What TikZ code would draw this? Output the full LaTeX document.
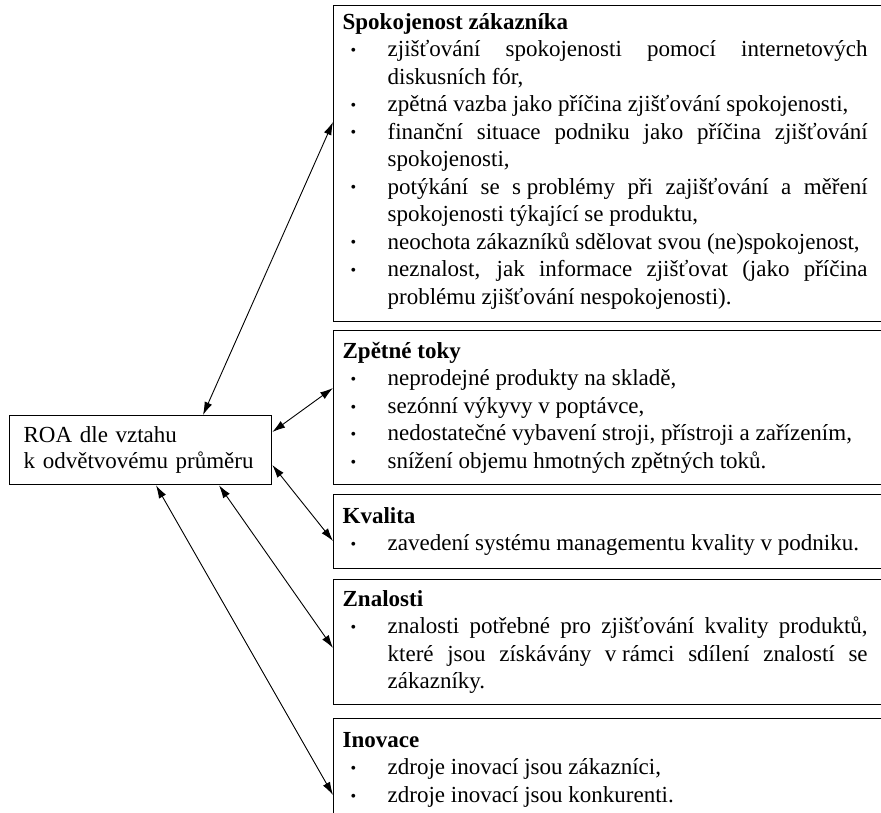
\documentclass[tikz,border=0pt]{standalone}
\usepackage{fontspec}
\setmainfont{Liberation Serif}
\usetikzlibrary{arrows.meta}

\newcommand\tecka{\raisebox{1.2pt}{\fontsize{16}{16}\selectfont\textbullet}}
\newcommand\bod{\par\noindent\hangindent=45pt\hangafter=1\makebox[45pt][l]{\hspace{8pt}\tecka}}
\newcommand\blok[1]{\begin{minipage}{550pt}\rightskip=25pt\relax\parindent=0pt #1\end{minipage}}

\begin{document}
\begin{tikzpicture}[x=1pt,y=-1pt]
	\tikzset{
		ramec/.style={draw,line width=1.3pt,anchor=north west,inner xsep=9pt,inner ysep=0pt,font=\fontsize{23}{27.5}\selectfont},
		sipka/.style={<->,>={Latex[length=13pt,width=8pt]},line width=0.9pt}}
	\useasboundingbox (0,0) rectangle (881,813);
	\clip (0,0) rectangle (881,813);
	\node[draw,line width=1.3pt,anchor=north west,minimum height=69pt,inner xsep=14pt,text width=234pt,align=left,font=\fontsize{23}{26}\selectfont] (roa) at (9,415) {ROA dle vztahu\\k odvětvovému průměru};
	\node[ramec,minimum height=316pt] (spok) at (333,5) {\blok{\textbf{Spokojenost zákazníka}
		\bod zjišťování spokojenosti pomocí internetových\linebreak diskusních fór,
		\bod zpětná vazba jako příčina zjišťování spokojenosti,
		\bod finanční situace podniku jako příčina zjišťování\linebreak spokojenosti,
		\bod potýkání se \mbox{s problémy} při zajišťování a měření\linebreak spokojenosti týkající se produktu,
		\bod neochota zákazníků sdělovat svou (ne)spokojenost,
		\bod neznalost, jak informace zjišťovat (jako příčina\linebreak problému zjišťování nespokojenosti).\par\vspace{5pt}}};
	\node[ramec,minimum height=154pt] (tok) at (333,330) {\blok{\textbf{Zpětné toky}
		\bod neprodejné produkty na skladě,
		\bod sezónní výkyvy v poptávce,
		\bod nedostatečné vybavení stroji, přístroji a zařízením,
		\bod snížení objemu hmotných zpětných toků.}};
	\node[ramec,minimum height=74pt] (kval) at (333,494) {\blok{\textbf{Kvalita}
		\bod zavedení systému managementu kvality v podniku.}};
	\node[ramec,minimum height=125pt] (znal) at (333,579) {\blok{\textbf{Znalosti}
		\bod znalosti potřebné pro zjišťování kvality produktů,\linebreak které jsou získávány \mbox{v rámci} sdílení znalostí se\linebreak zákazníky.}};
	\node[ramec,minimum height=102pt] (inov) at (333,718) {\blok{\textbf{Inovace}
		\bod zdroje inovací jsou zákazníci,
		\bod zdroje inovací jsou konkurenti.}};
	\draw[sipka] ([xshift=194pt]roa.north west) -- ([yshift=-117pt]spok.north west);
	\draw[sipka] ([yshift=-17pt]roa.north east) -- ([yshift=-58pt]tok.north west);
	\draw[sipka] ([yshift=-50pt]roa.north east) -- ([yshift=-47pt]kval.north west);
	\draw[sipka] ([xshift=210pt]roa.south west) -- ([yshift=-69pt]znal.north west);
	\draw[sipka] ([xshift=147pt]roa.south west) -- ([yshift=-77pt]inov.north west);
\end{tikzpicture}
\end{document}
